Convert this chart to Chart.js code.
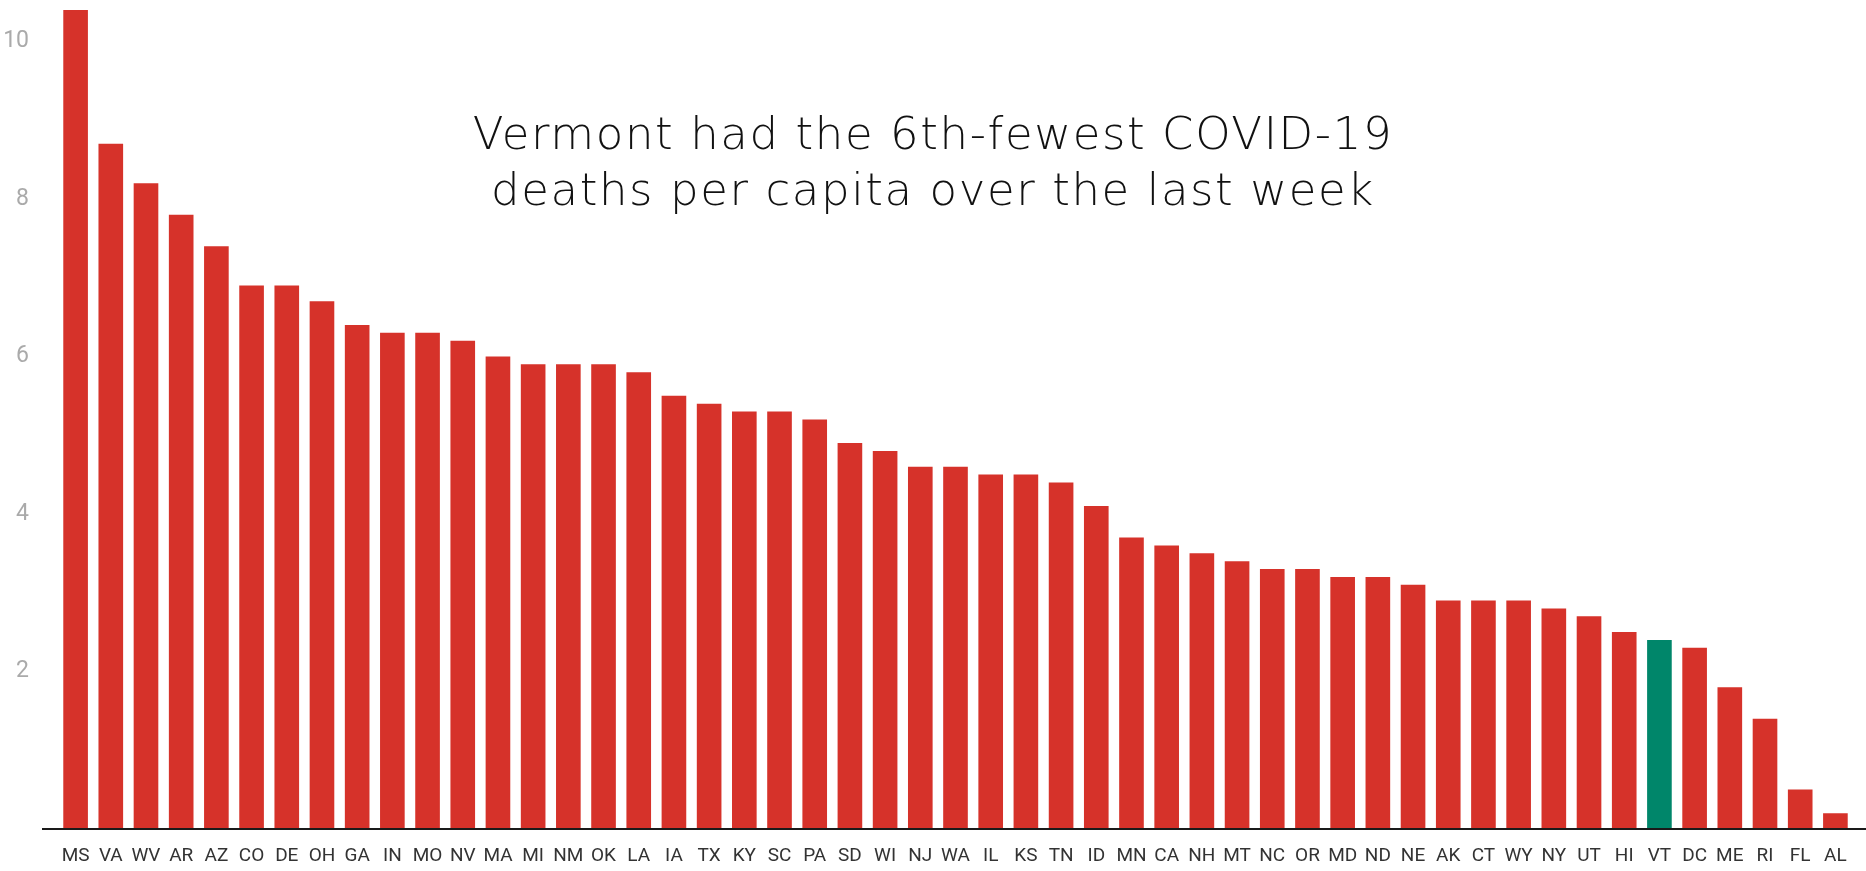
<!DOCTYPE html>
<html>
<head>
<meta charset="utf-8">
<script src="https://cdn.jsdelivr.net/npm/chart.js@4"></script>
<style>
    html, body { margin: 0; padding: 0; background: #fff; }
    #wrap { position: relative; width: 1866px; height: 871px; }
    #title {
        position: absolute;
        left: 0;
        top: 106px;
        width: 1866px;
        text-align: center;
        font-family: 'DejaVu Sans', sans-serif;
        font-weight: 300;
        font-size: 45px;
        letter-spacing: 1.6px;
        line-height: 56px;
        color: #111;
        pointer-events: none;
    }
</style>
</head>
<body>
<div id="wrap">
    <canvas id="deathsChart" width="1866" height="871"></canvas>
    <div id="title">Vermont had the 6th-fewest COVID-19<br>deaths per capita over the last week</div>
</div>
<script>
// Данные
const states = ['MS', 'VA', 'WV', 'AR', 'AZ', 'CO', 'DE', 'OH', 'GA', 'IN', 'MO', 'NV', 'MA', 'MI', 'NM', 'OK', 'LA',
    'IA', 'TX', 'KY', 'SC', 'PA', 'SD', 'WI', 'NJ', 'WA', 'IL', 'KS', 'TN', 'ID', 'MN', 'CA', 'NH', 'MT', 'NC', 'OR',
    'MD', 'ND', 'NE', 'AK', 'CT', 'WY', 'NY', 'UT', 'HI', 'VT', 'DC', 'ME', 'RI', 'FL', 'AL'];
const deathsPerCapita = [10.4, 8.7, 8.2, 7.8, 7.4, 6.9, 6.9, 6.7, 6.4, 6.3, 6.3, 6.2, 6.0, 5.9, 5.9, 5.9, 5.8,
    5.5, 5.4, 5.3, 5.3, 5.2, 4.9, 4.8, 4.6, 4.6, 4.5, 4.5, 4.4, 4.1, 3.7, 3.6, 3.5, 3.4, 3.3, 3.3,
    3.2, 3.2, 3.1, 2.9, 2.9, 2.9, 2.8, 2.7, 2.5, 2.4, 2.3, 1.8, 1.4, 0.5, 0.2];
const yTicks = [2, 4, 6, 8, 10];
const highlightState = 'VT';

const RED = '#d6322a';
const GREEN = '#00866a';

// Линия оси X (от края подписей до правого края)
const baselinePlugin = {
    id: 'baseline',
    afterDatasetsDraw(chart) {
        const y = chart.scales.y.getPixelForValue(0);
        const ctx = chart.ctx;
        ctx.save();
        ctx.strokeStyle = '#1a1a1a';
        ctx.lineWidth = 2;
        ctx.beginPath();
        ctx.moveTo(42, y);
        ctx.lineTo(chart.width, y);
        ctx.stroke();
        ctx.restore();
    }
};

new Chart(document.getElementById('deathsChart'), {
    type: 'bar',
    data: {
        labels: states,
        datasets: [{
            data: deathsPerCapita,
            backgroundColor: states.map(s => s === highlightState ? GREEN : RED),
            borderWidth: 0,
            barPercentage: 0.7,
            categoryPercentage: 1
        }]
    },
    options: {
        responsive: false,
        animation: false,
        layout: { padding: { top: 2, right: 13, left: 0, bottom: 0 } },
        plugins: {
            legend: { display: false },
            tooltip: { enabled: false }
        },
        scales: {
            x: {
                grid: { display: false, drawTicks: false },
                border: { display: false },
                ticks: {
                    color: '#333',
                    font: { family: 'Roboto', size: 19 },
                    padding: 16,
                    maxRotation: 0,
                    autoSkip: false
                },
                afterFit: scale => { scale.height = 42; }
            },
            y: {
                min: 0,
                max: 10.5,
                grid: { display: false, drawTicks: false },
                border: { display: false },
                ticks: {
                    stepSize: 2,
                    color: '#aaa',
                    font: { family: 'Roboto', size: 23 },
                    padding: 29
                },
                afterBuildTicks: scale => {
                    scale.ticks = yTicks.map(v => ({ value: v }));
                },
                afterFit: scale => {
                    scale.width = 58;
                    // без лишнего отступа сверху/снизу от padding подписей
                    scale.paddingTop = 0;
                    scale.paddingBottom = 0;
                }
            }
        }
    },
    plugins: [baselinePlugin]
});
</script>
</body>
</html>
